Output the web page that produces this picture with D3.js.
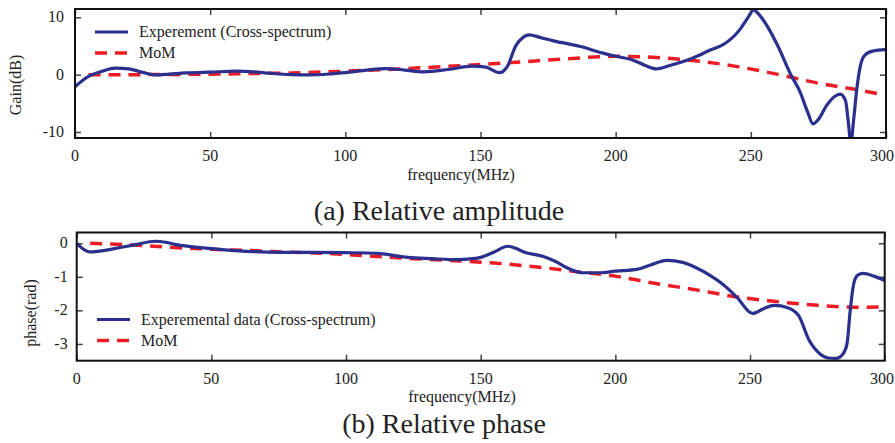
<!DOCTYPE html>
<html>
<head>
<meta charset="utf-8">
<script src="https://cdn.jsdelivr.net/npm/d3@7"></script>
<style>
  body { margin: 0; background: #fff; }
  svg text { font-family: "Liberation Serif", "DejaVu Serif", serif; fill: #222; }
</style>
</head>
<body>
<svg id="chart" width="895" height="443"></svg>
<script>
// frequency ticks shared by both panels
const freqTicks = [0, 50, 100, 150, 200, 250, 300];

// (a) relative amplitude, dB
const gainTicks = [10, 0, -10];
const gainExpF = [0, 5, 10, 15, 20, 25, 30, 35, 41, 50, 60, 66, 72, 80, 87, 95, 100, 108, 115, 122, 129, 138, 147, 152, 157, 160, 163, 166, 168, 172, 177, 187, 195, 200, 206, 211, 215, 220, 229, 235, 240, 246, 249, 251, 253, 256, 260, 265, 268, 271, 273, 275, 278, 281, 283, 285, 286, 287, 288, 289.2, 290.5, 292, 295, 300];
const gainExpV = [-2.1, -0.3, 0.6, 1.15, 1.0, 0.4, -0.05, 0.1, 0.3, 0.45, 0.6, 0.5, 0.25, 0.0, -0.05, 0.15, 0.35, 0.8, 1.05, 0.8, 0.5, 0.9, 1.5, 1.3, 0.35, 1.5, 5.0, 6.6, 6.95, 6.5, 5.9, 4.9, 3.8, 3.2, 2.6, 1.6, 1.0, 1.6, 3.0, 4.3, 5.3, 7.9, 10, 11.3, 10.5, 8.5, 5.0, -0.2, -2.8, -6.5, -8.6, -7.8, -5.4, -3.8, -3.4, -4.5, -8, -12, -8, -2.5, 1.5, 3.3, 4.1, 4.35];
const gainMomF = [5, 20, 40, 60, 80, 100, 120, 140, 160, 180, 200, 215, 230, 245, 260, 275, 290, 299];
const gainMomV = [0, 0, 0.05, 0.15, 0.3, 0.6, 1.0, 1.5, 2.05, 2.7, 3.2, 3.0, 2.4, 1.4, 0.05, -1.5, -2.7, -3.5];

// (b) relative phase, rad
const phaseTicks = [0, -1, -2, -3];
const phaseExpF = [0, 2, 5, 10, 14, 22, 29, 33, 37, 47, 55, 63, 75, 85, 100, 112, 118, 123, 132, 141, 147, 150, 155, 160, 163, 166, 173, 178, 182, 188, 194, 200, 208, 213, 219, 225, 230, 235, 240, 245, 251, 255, 259, 264, 268, 272, 276, 279, 282, 284.5, 286, 287.2, 288.5, 290, 292, 296, 300];
const phaseExpV = [0, -0.15, -0.26, -0.22, -0.16, -0.04, 0.06, 0.03, -0.04, -0.14, -0.2, -0.24, -0.27, -0.27, -0.28, -0.3, -0.37, -0.42, -0.46, -0.49, -0.46, -0.42, -0.26, -0.09, -0.15, -0.26, -0.39, -0.55, -0.73, -0.88, -0.88, -0.83, -0.78, -0.65, -0.51, -0.57, -0.73, -0.95, -1.23, -1.6, -2.09, -1.95, -1.85, -1.92, -2.15, -2.9, -3.3, -3.42, -3.43, -3.3, -3.0, -2.0, -1.2, -0.95, -0.9, -0.98, -1.11];
const phaseMomF = [5, 15, 25, 35, 50, 65, 80, 95, 110, 125, 140, 155, 170, 185, 200, 215, 230, 245, 260, 275, 290, 298];
const phaseMomV = [0, -0.03, -0.07, -0.12, -0.18, -0.22, -0.27, -0.31, -0.39, -0.46, -0.52, -0.59, -0.7, -0.84, -0.98, -1.2, -1.39, -1.6, -1.74, -1.85, -1.91, -1.9];

const blue = '#2b2f8e', red = '#ec1c24';
const svg = d3.select('#chart');
const zip = (fs, vs) => fs.map((f, i) => [f, vs[i]]);

function panel(o) {
    const x = d3.scaleLinear().domain([0, 300]).range([o.left, o.right]),
          y = d3.scaleLinear().domain(o.yDomain).range([o.bottom, o.top]);
    const g = svg.append('g');
    const id = 'clip' + o.name;

    g.append('clipPath').attr('id', id).append('rect')
        .attr('x', o.left).attr('y', o.top)
        .attr('width', o.right - o.left).attr('height', o.bottom - o.top);

    // inward ticks on all four sides, labels only left and bottom
    g.append('g').attr('transform', `translate(0,${o.bottom})`)
        .call(d3.axisTop(x).tickValues(freqTicks).tickSize(6).tickFormat(''));
    g.append('g').attr('transform', `translate(0,${o.top})`)
        .call(d3.axisBottom(x).tickValues(freqTicks).tickSize(6).tickFormat(''));
    g.append('g').attr('transform', `translate(${o.left},0)`)
        .call(d3.axisRight(y).tickValues(o.yTicks).tickSize(6).tickFormat(''));
    g.append('g').attr('transform', `translate(${o.right},0)`)
        .call(d3.axisLeft(y).tickValues(o.yTicks).tickSize(6).tickFormat(''));
    g.selectAll('.domain').remove();
    g.selectAll('.tick line').attr('stroke', '#444').attr('stroke-width', 1.5);

    // last label sits against the page edge, so it is right-aligned there
    g.selectAll('text.xt').data(freqTicks).join('text').attr('class', 'xt')
        .attr('x', (d, i) => i === freqTicks.length - 1 ? 894 : x(d))
        .attr('y', o.bottom + 23)
        .attr('text-anchor', (d, i) => i === freqTicks.length - 1 ? 'end' : 'middle')
        .style('font-size', '16px').text(d => d);
    g.selectAll('text.yt').data(o.yTicks).join('text').attr('class', 'yt')
        .attr('x', o.left - o.yLabelGap).attr('y', d => y(d) + 5)
        .attr('text-anchor', 'end').style('font-size', '16px').text(d => d);

    const line = d3.line().x(d => x(d[0])).y(d => y(d[1])).curve(d3.curveMonotoneX);
    const plot = g.append('g').attr('clip-path', `url(#${id})`);
    plot.append('path').datum(o.mom).attr('d', line)
        .attr('fill', 'none').attr('stroke', red).attr('stroke-width', 3.5)
        .attr('stroke-dasharray', '12,8');
    plot.append('path').datum(o.exp).attr('d', line)
        .attr('fill', 'none').attr('stroke', blue).attr('stroke-width', 3.2)
        .attr('stroke-linejoin', 'round');

    g.append('rect').attr('x', o.left).attr('y', o.top)
        .attr('width', o.right - o.left).attr('height', o.bottom - o.top)
        .attr('fill', 'none').attr('stroke', '#111').attr('stroke-width', 2);

    // legend
    const lg = g.append('g');
    [[o.expName, blue, null], ['MoM', red, '12,8']].forEach((e, i) => {
        const ly = o.legendY + i * o.legendStep;
        lg.append('line').attr('x1', o.legendX).attr('x2', o.legendX + 33)
            .attr('y1', ly).attr('y2', ly)
            .attr('stroke', e[1]).attr('stroke-width', e[2] ? 3.5 : 3.2)
            .attr('stroke-dasharray', e[2]);
        lg.append('text').attr('x', o.legendX + 44).attr('y', ly + 5)
            .style('font-size', '16px').text(e[0]);
    });

    g.append('text').attr('x', o.xLabelX).attr('y', o.bottom + o.xLabelDy)
        .attr('text-anchor', 'middle').style('font-size', '16px').text('frequency(MHz)');
    g.append('text')
        .attr('transform', `translate(${o.yLabelX},${o.yLabelY}) rotate(-90)`)
        .attr('text-anchor', 'middle').style('font-size', '16px').text(o.yName);
    g.append('text').attr('x', o.captionX).attr('y', o.captionY)
        .attr('text-anchor', 'middle').style('font-size', '28px').text(o.caption);
}

panel({
    name: 'a', left: 75, right: 886, top: 9, bottom: 138,
    yDomain: [-11.05, 11.45], yTicks: gainTicks, yLabelGap: 11,
    exp: zip(gainExpF, gainExpV), mom: zip(gainMomF, gainMomV),
    expName: 'Experement (Cross-spectrum)', yName: 'Gain(dB)',
    legendX: 95, legendY: 32, legendStep: 21,
    xLabelX: 461, xLabelDy: 42, yLabelX: 21, yLabelY: 85,
    caption: '(a) Relative amplitude', captionX: 439, captionY: 220
});

panel({
    name: 'b', left: 76.7, right: 884.7, top: 232.5, bottom: 360.7,
    yDomain: [-3.5, 0.32], yTicks: phaseTicks, yLabelGap: 9,
    exp: zip(phaseExpF, phaseExpV), mom: zip(phaseMomF, phaseMomV),
    expName: 'Experemental data (Cross-spectrum)', yName: 'phase(rad)',
    legendX: 97, legendY: 319.5, legendStep: 21,
    xLabelX: 462, xLabelDy: 41, yLabelX: 36, yLabelY: 313,
    caption: '(b) Relative phase', captionX: 444, captionY: 433
});
</script>
</body>
</html>
